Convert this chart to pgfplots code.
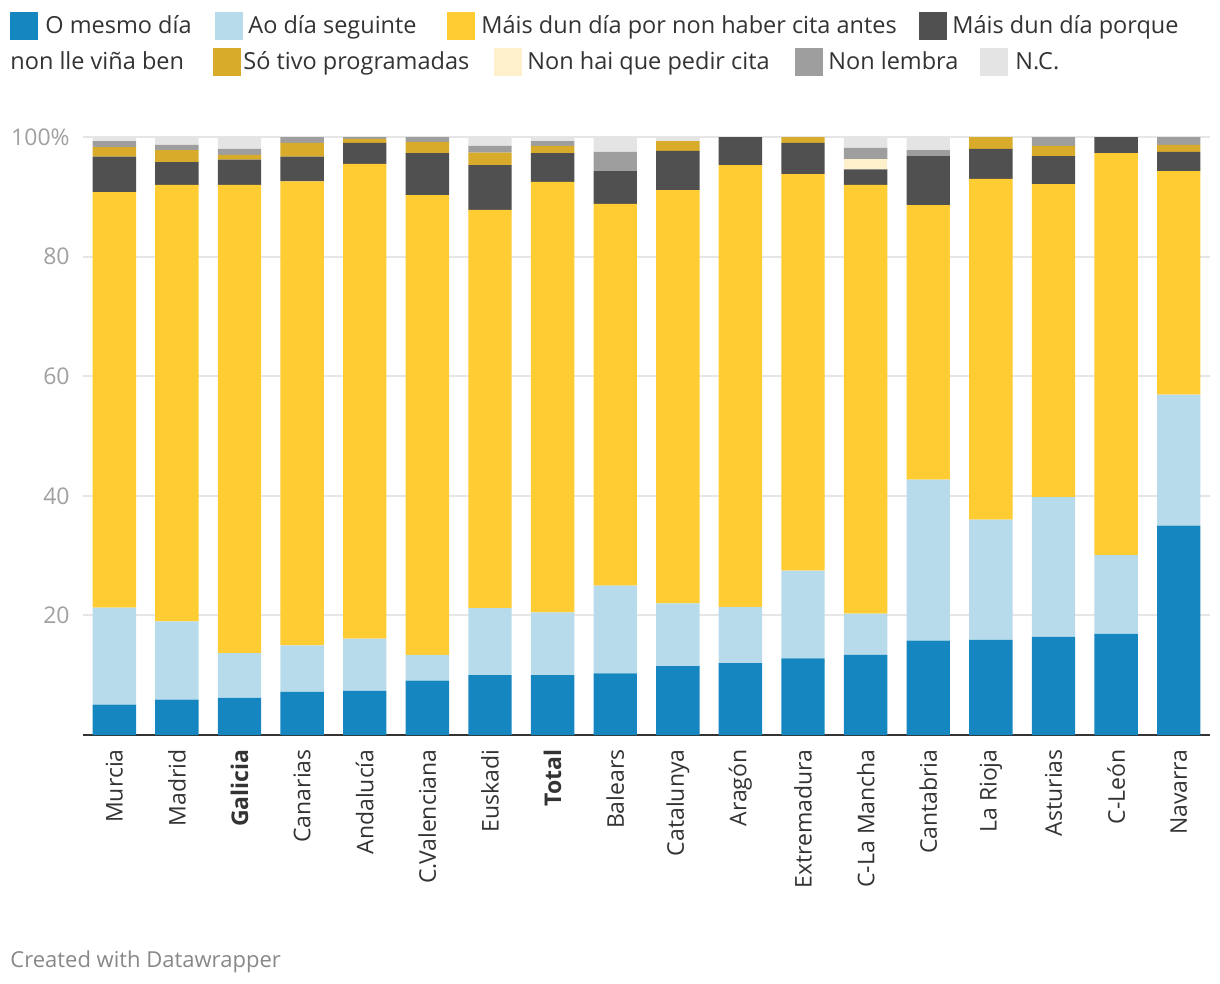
\documentclass[border=0pt]{standalone}
\usepackage{fontspec}
\setmainfont{Open Sans}
\usepackage{pgfplots}
\pgfplotsset{compat=1.18}
\usepackage{pgfplotstable}
\definecolor{c1}{HTML}{1586BF}
\definecolor{c2}{HTML}{B7DBEA}
\definecolor{c3}{HTML}{FFCC33}
\definecolor{c4}{HTML}{505050}
\definecolor{c5}{HTML}{D8AC2A}
\definecolor{c6}{HTML}{FFF0CC}
\definecolor{c7}{HTML}{9E9E9E}
\definecolor{c8}{HTML}{E4E4E4}
\definecolor{textc}{HTML}{333333}
\definecolor{tickc}{HTML}{A0A0A0}
\definecolor{gridc}{HTML}{E6E6E6}
\definecolor{footc}{HTML}{888888}
\pgfplotstableread{
idx o ao mc md st nh nl nc
0 5.1 16.2 69.5 5.9 1.6 0 1.0 0.7
1 5.9 13.1 73.0 3.8 2.0 0 0.9 1.3
2 6.2 7.5 78.3 4.2 0.8 0 1.0 2.0
3 7.2 7.8 77.6 4.1 2.3 0 1.0 0
4 7.4 8.7 79.4 3.5 0.7 0 0.3 0
5 9.1 4.3 76.9 7.0 1.9 0 0.8 0
6 10.0 11.2 66.6 7.5 2.1 0 1.1 1.5
7 10.0 10.5 72.0 4.8 1.2 0 0.8 0.7
8 10.3 14.7 63.8 5.5 0 0 3.2 2.5
9 11.5 10.5 69.1 6.6 1.6 0 0 0.7
10 12.0 9.4 73.9 4.7 0 0 0 0
11 12.8 14.7 66.3 5.2 1.0 0 0 0
12 13.4 6.9 71.7 2.6 0 1.7 1.9 1.8
13 15.8 26.9 45.9 8.2 0 0 1.0 2.2
14 15.9 20.1 57.0 5.0 2.0 0 0 0
15 16.4 23.4 52.3 4.7 1.7 0 1.5 0
16 16.9 13.2 67.2 2.7 0 0 0 0
17 35.0 21.9 37.4 3.2 1.2 0 1.3 0
}\datatable
\newcommand{\lf}{\fontsize{11.5}{13}\selectfont}
\newcommand{\legf}{\fontsize{11.75}{13}\selectfont}
\begin{document}
\begin{tikzpicture}
\useasboundingbox (0,0) rectangle (610pt,-492pt);
\begin{axis}[
  at={(41.5pt,-367.5pt)}, anchor=south west,
  width=563.5pt, height=299pt, scale only axis,
  xmin=-0.5, xmax=17.5, ymin=0, ymax=100,
  ybar stacked, bar width=21.7pt,
  xtick=data,
  xticklabels={Murcia,Madrid,\textbf{Galicia},Canarias,Andalucía,C.Valenciana,Euskadi,\textbf{Total},Balears,Catalunya,Aragón,Extremadura,C-La Mancha,Cantabria,La Rioja,Asturias,C-León,Navarra},
  ytick={20,40,60,80,100},
  yticklabels={20,40,60,80,100\%},
  /pgf/number format/assume math mode=true,
  ymajorgrids,
  grid style={draw=gridc, line width=1pt},
  axis x line*=bottom,
  axis y line*=left,
  x axis line style={draw=textc, line width=1pt},
  y axis line style={draw=none},
  major tick length=0pt,
  xticklabel style={rotate=90, anchor=east, font=\lf, text=textc, inner sep=0pt},
  xticklabel shift=7pt,
  yticklabel style={font=\lf, text=tickc, inner sep=0pt},
  yticklabel shift=6.5pt,
  clip=false,
]
\addplot[fill=c1, draw=none] table[x=idx,y=o]{\datatable};
\addplot[fill=c2, draw=none] table[x=idx,y=ao]{\datatable};
\addplot[fill=c3, draw=none] table[x=idx,y=mc]{\datatable};
\addplot[fill=c4, draw=none] table[x=idx,y=md]{\datatable};
\addplot[fill=c5, draw=none] table[x=idx,y=st]{\datatable};
\addplot[fill=c6, draw=none] table[x=idx,y=nh]{\datatable};
\addplot[fill=c7, draw=none] table[x=idx,y=nl]{\datatable};
\addplot[fill=c8, draw=none] table[x=idx,y=nc]{\datatable};
\end{axis}
% legend line 1
\fill[c1] (5pt,-6pt) rectangle ++(14pt,-14pt);
\node[anchor=base west, inner sep=0pt, text=textc, font=\legf] at (22.5pt,-17pt) {O mesmo día};
\fill[c2] (107.5pt,-6pt) rectangle ++(14pt,-14pt);
\node[anchor=base west, inner sep=0pt, text=textc, font=\legf] at (124pt,-17pt) {Ao día seguinte};
\fill[c3] (223.5pt,-6pt) rectangle ++(14pt,-14pt);
\node[anchor=base west, inner sep=0pt, text=textc, font=\legf] at (240.5pt,-17pt) {Máis dun día por non haber cita antes};
\fill[c4] (459.5pt,-6pt) rectangle ++(14pt,-14pt);
\node[anchor=base west, inner sep=0pt, text=textc, font=\legf] at (476pt,-17pt) {Máis dun día porque};
% legend line 2
\node[anchor=base west, inner sep=0pt, text=textc, font=\legf] at (5pt,-35pt) {non lle viña ben};
\fill[c5] (106.5pt,-24pt) rectangle ++(14pt,-14pt);
\node[anchor=base west, inner sep=0pt, text=textc, font=\legf] at (121.5pt,-35pt) {Só tivo programadas};
\fill[c6] (247pt,-24pt) rectangle ++(14pt,-14pt);
\node[anchor=base west, inner sep=0pt, text=textc, font=\legf] at (263.5pt,-35pt) {Non hai que pedir cita};
\fill[c7] (397.5pt,-24pt) rectangle ++(14pt,-14pt);
\node[anchor=base west, inner sep=0pt, text=textc, font=\legf] at (414pt,-35pt) {Non lembra};
\fill[c8] (490pt,-24pt) rectangle ++(14pt,-14pt);
\node[anchor=base west, inner sep=0pt, text=textc, font=\legf] at (507.5pt,-35pt) {N.C.};
% footer
\node[anchor=base west, inner sep=0pt, text=footc, font=\fontsize{11}{12}\selectfont] at (5pt,-483.5pt) {Created with Datawrapper};
\end{tikzpicture}
\end{document}
